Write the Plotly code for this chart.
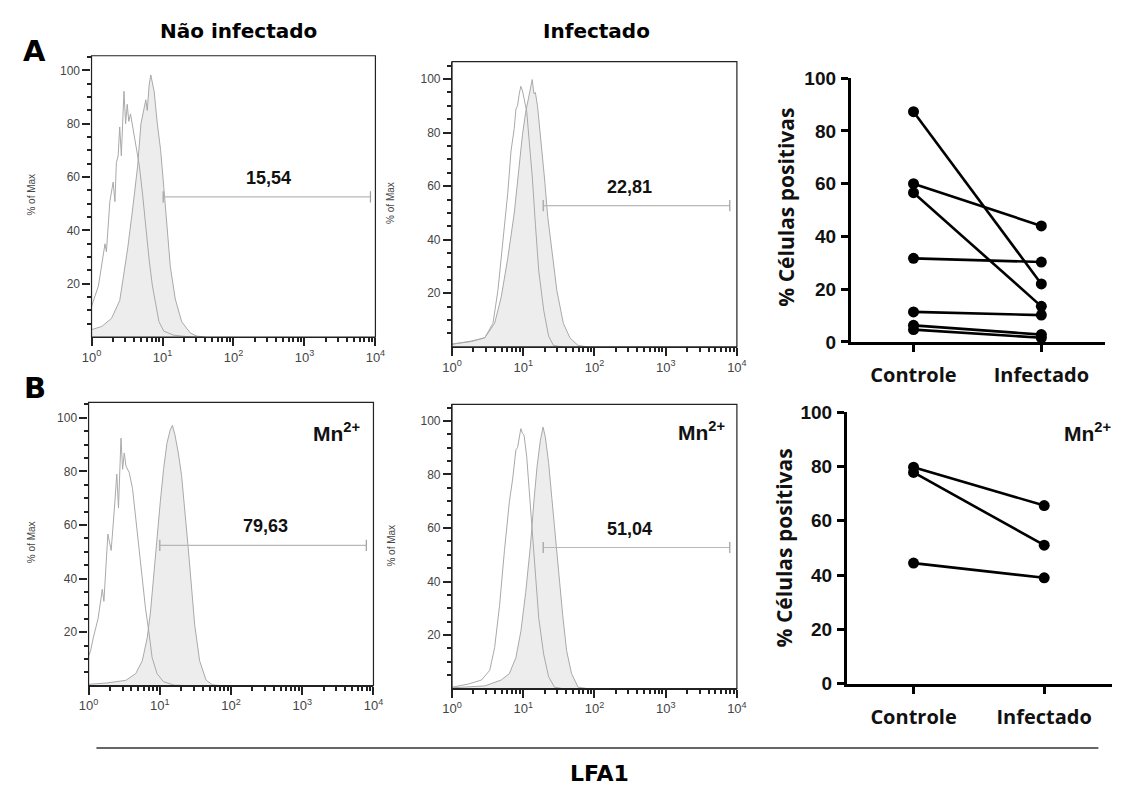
import numpy as np
import plotly.graph_objects as go

W, H = 1130, 795

# ---------------- data: flow histograms (x as log10 of LFA1 intensity, y as % of max) ----------
A1_OPEN_LOGX = [0.0, 0.005, 0.097, 0.166, 0.19, 0.21, 0.258, 0.304, 0.33, 0.35, 0.375, 0.397, 0.42, 0.457, 0.48, 0.503, 0.525, 0.549, 0.581, 0.627, 0.674, 0.72, 0.766, 0.812, 0.858, 0.904, 0.95, 1.02, 1.16, 1.3, 1.5]
A1_OPEN_Y = [11.0, 11.9, 19.2, 31.4, 35.0, 32.0, 50.8, 58.1, 50.8, 65.4, 68.0, 78.8, 68.0, 92.2, 80.0, 87.3, 80.9, 83.7, 78.8, 72.7, 64.2, 53.3, 39.9, 28.9, 19.2, 11.9, 5.8, 2.2, 0.7, 0.3, 0.0]
A1_FILL_LOGX = [0.0, 0.143, 0.281, 0.397, 0.443, 0.512, 0.581, 0.65, 0.696, 0.743, 0.765, 0.785, 0.812, 0.835, 0.882, 0.927, 0.973, 1.02, 1.066, 1.11, 1.18, 1.27, 1.39, 1.48, 1.6]
A1_FILL_Y = [2.8, 4.0, 7.0, 13.7, 21.6, 33.8, 48.4, 64.2, 80.0, 86.1, 89.0, 85.0, 94.6, 98.3, 92.2, 80.0, 70.3, 55.7, 41.1, 26.5, 14.3, 5.8, 1.6, 0.4, 0.0]

A2_OPEN_LOGX = [0.0, 0.276, 0.46, 0.575, 0.644, 0.713, 0.782, 0.828, 0.874, 0.897, 0.92, 0.943, 0.966, 0.99, 1.01, 1.05, 1.08, 1.127, 1.172, 1.218, 1.287, 1.356, 1.425, 1.55]
A2_OPEN_Y = [1.0, 2.2, 3.4, 8.8, 21.0, 39.2, 57.3, 73.1, 81.6, 88.8, 90.0, 94.3, 97.3, 95.5, 93.0, 87.6, 77.9, 63.4, 45.2, 28.3, 13.7, 4.0, 0.5, 0.0]
A2_FILL_LOGX = [0.0, 0.276, 0.46, 0.598, 0.69, 0.782, 0.874, 0.943, 0.989, 1.034, 1.08, 1.103, 1.126, 1.15, 1.17, 1.2, 1.25, 1.297, 1.343, 1.402, 1.472, 1.563, 1.655, 1.77, 1.9]
A2_FILL_Y = [1.0, 2.0, 3.4, 8.8, 18.5, 33.0, 50.0, 67.0, 79.2, 87.6, 93.7, 97.3, 99.8, 94.5, 95.0, 90.0, 76.7, 63.4, 48.8, 35.5, 21.0, 8.8, 3.4, 0.5, 0.0]

B1_OPEN_LOGX = [0.0, 0.028, 0.065, 0.133, 0.193, 0.215, 0.271, 0.317, 0.363, 0.396, 0.42, 0.455, 0.478, 0.501, 0.525, 0.57, 0.617, 0.662, 0.708, 0.754, 0.8, 0.846, 0.892, 0.961, 1.05, 1.2, 1.4]
B1_OPEN_Y = [11.0, 13.0, 17.8, 25.0, 36.0, 31.5, 56.6, 50.5, 66.3, 79.0, 66.3, 92.4, 80.8, 86.9, 82.0, 79.6, 73.6, 62.7, 51.7, 39.6, 28.7, 20.2, 10.5, 4.5, 1.5, 0.2, 0.0]
B1_FILL_LOGX = [0.0, 0.25, 0.524, 0.662, 0.754, 0.823, 0.869, 0.915, 0.961, 1.007, 1.053, 1.1, 1.145, 1.177, 1.21, 1.26, 1.306, 1.352, 1.398, 1.444, 1.49, 1.559, 1.651, 1.743, 1.85]
B1_FILL_Y = [0.5, 1.0, 2.0, 4.5, 9.3, 17.8, 27.5, 42.0, 56.6, 68.7, 80.8, 90.5, 95.4, 97.2, 94.0, 86.9, 78.4, 66.3, 51.7, 37.2, 22.7, 9.3, 2.0, 0.3, 0.0]

B2_OPEN_LOGX = [0.0, 0.23, 0.414, 0.529, 0.598, 0.667, 0.736, 0.805, 0.851, 0.897, 0.92, 0.943, 0.966, 0.99, 1.011, 1.048, 1.08, 1.127, 1.172, 1.218, 1.287, 1.356, 1.44, 1.55]
B2_OPEN_Y = [0.5, 1.7, 3.2, 6.8, 15.3, 31.0, 51.6, 69.8, 78.3, 89.2, 90.0, 94.0, 97.1, 95.3, 94.7, 86.8, 74.7, 57.7, 40.7, 26.2, 12.8, 4.4, 0.5, 0.0]
B2_FILL_LOGX = [0.0, 0.46, 0.69, 0.805, 0.897, 0.966, 1.034, 1.103, 1.149, 1.195, 1.241, 1.278, 1.31, 1.356, 1.402, 1.448, 1.494, 1.554, 1.609, 1.678, 1.77, 1.9]
B2_FILL_Y = [0.3, 1.0, 3.2, 5.6, 11.6, 21.3, 35.9, 54.0, 69.8, 83.2, 92.8, 97.7, 94.0, 84.4, 71.0, 57.7, 43.2, 27.4, 14.1, 5.6, 0.5, 0.0]

# gates (log10 start, log10 end, height) and gate percentages
GATES = {"A1": (1.01, 3.93, 52.6), "A2": (1.28, 3.9, 52.7), "B1": (1.0, 3.9, 52.4), "B2": (1.28, 3.9, 52.7)}
GATE_LABELS = {"A1": "15,54", "A2": "22,81", "B1": "79,63", "B2": "51,04"}

# ---------------- data: paired dot plots ----------------
CATEGORIES = ["Controle", "Infectado"]
A_CONTROLE = [87.3, 60.0, 56.6, 31.7, 11.4, 6.3, 4.7]
A_INFECTADO = [22.0, 44.0, 13.5, 30.3, 10.2, 2.8, 1.6]
B_CONTROLE = [79.7, 77.8, 44.4]
B_INFECTADO = [65.6, 51.0, 39.0]

FLOW_TICKVALS = [1, 10, 100, 1000, 10000]
FLOW_EXPONENTS = ["0", "1", "2", "3", "4"]
FLOW_TICKTEXT = ["10<sup>%s</sup>" % e for e in FLOW_EXPONENTS]
FLOW_MINOR = [m * 10 ** k for k in range(4) for m in range(2, 10)]
FLOW_Y_MAJOR = [20, 40, 60, 80, 100]
FLOW_Y_MINOR = [5, 10, 15, 25, 30, 35, 45, 50, 55, 65, 70, 75, 85, 90, 95, 105]
PCT_TICKS = [0, 20, 40, 60, 80, 100]


def px(x):
    return x / W


def py(y):
    return 1 - y / H


fig = go.Figure()

LINE_C = "#a9a9a9"
FILL_C = "#ededed"
TICK_C = "#222"

panels = [
    ("A1", "x", "y", "x7", "y7", A1_OPEN_LOGX, A1_OPEN_Y, A1_FILL_LOGX, A1_FILL_Y, (83, 372), (336, 47), 105.5),
    ("A2", "x2", "y2", "x8", "y8", A2_OPEN_LOGX, A2_OPEN_Y, A2_FILL_LOGX, A2_FILL_Y, (450, 740), (346, 53), 106.5),
    ("B1", "x4", "y4", "x9", "y9", B1_OPEN_LOGX, B1_OPEN_Y, B1_FILL_LOGX, B1_FILL_Y, (80, 370), (694, 403), 105.8),
    ("B2", "x5", "y5", "x10", "y10", B2_OPEN_LOGX, B2_OPEN_Y, B2_FILL_LOGX, B2_FILL_Y, (450, 740), (697, 405), 106.2),
]

axes = {}


def axname(a):
    return ("xaxis" if a[0] == "x" else "yaxis") + a[1:]


for key, xa, ya, mxa, mya, ox, oy, fx, fy, xd, yd, top in panels:
    fig.add_trace(go.Scatter(x=10 ** np.array(fx), y=fy, mode="lines", fill="tozeroy",
                             fillcolor=FILL_C, line=dict(color=LINE_C, width=1),
                             xaxis=xa, yaxis=ya, showlegend=False, hoverinfo="skip"))
    fig.add_trace(go.Scatter(x=10 ** np.array(ox), y=oy, mode="lines",
                             line=dict(color=LINE_C, width=1),
                             xaxis=xa, yaxis=ya, showlegend=False, hoverinfo="skip"))
    g0, g1, gh = GATES[key]
    fig.add_trace(go.Scatter(x=[10 ** g0, 10 ** g1], y=[gh, gh], mode="lines+markers",
                             line=dict(color="#b8b8b8", width=1.2),
                             marker=dict(symbol="line-ns", size=8, line=dict(color="#a0a0a0", width=1.2)),
                             xaxis=xa, yaxis=ya, showlegend=False, hoverinfo="skip"))
    fig.add_annotation(x=2.49, y=59.6, xref=xa, yref=ya, text="<b>" + GATE_LABELS[key] + "</b>",
                       showarrow=False, font=dict(family="Liberation Sans", size=18, color="#111"))
    # invisible carrier trace for the minor-tick overlay axes
    fig.add_trace(go.Scatter(x=[10, 100], y=[50, 50], mode="markers", marker=dict(opacity=0),
                             xaxis=mxa, yaxis=mya, showlegend=False, hoverinfo="skip"))

    xdom = [px(xd[0]), px(xd[1])]
    ydom = [py(yd[0]), py(yd[1])]
    axes[axname(xa)] = dict(type="log", range=[0, 4], domain=xdom, anchor=ya,
                            showline=True, linecolor="#222", linewidth=1.2,
                            showgrid=False, zeroline=False,
                            ticks="outside", ticklen=8, tickcolor=TICK_C, tickwidth=2,
                            tickvals=FLOW_TICKVALS, ticktext=FLOW_TICKTEXT,
                            tickfont=dict(family="Liberation Sans", size=13, color="#444"))
    axes[axname(ya)] = dict(range=[0, top], domain=ydom, anchor=xa,
                            showline=True, linecolor="#222", linewidth=1.2,
                            showgrid=False, zeroline=False,
                            ticks="outside", ticklen=8, tickcolor=TICK_C, tickwidth=2,
                            tickvals=FLOW_Y_MAJOR,
                            tickfont=dict(family="Liberation Sans", size=12, color="#444"))
    axes[axname(mxa)] = dict(type="log", range=[0, 4], domain=xdom, anchor=mya, overlaying=xa,
                             showline=False, showgrid=False, zeroline=False,
                             ticks="outside", ticklen=4, tickcolor=TICK_C, tickwidth=2,
                             tickvals=FLOW_MINOR, showticklabels=False)
    axes[axname(mya)] = dict(range=[0, top], domain=ydom, anchor=mxa, overlaying=ya,
                             showline=False, showgrid=False, zeroline=False,
                             ticks="outside", ticklen=4, tickcolor=TICK_C, tickwidth=2,
                             tickvals=FLOW_Y_MINOR, showticklabels=False)
    # box frame around each histogram panel
    fig.add_shape(type="rect", xref=xa + " domain", yref=ya + " domain", x0=0, x1=1, y0=0, y1=1,
                  line=dict(color="#222", width=1.2), fillcolor="rgba(0,0,0,0)", layer="above")

# paired dot plots
for xa, ya, ctrl, inf in [("x3", "y3", A_CONTROLE, A_INFECTADO), ("x6", "y6", B_CONTROLE, B_INFECTADO)]:
    for c, i in zip(ctrl, inf):
        fig.add_trace(go.Scatter(x=CATEGORIES, y=[c, i], mode="lines+markers",
                                 line=dict(color="black", width=2.6),
                                 marker=dict(color="black", size=11),
                                 cliponaxis=False, xaxis=xa, yaxis=ya, showlegend=False))


def dot_x(domain, anchor, rng):
    return dict(type="category", range=rng, domain=domain, anchor=anchor,
                showline=True, linecolor="black", linewidth=3,
                ticks="outside", ticklen=7, tickwidth=3, tickcolor="black",
                showgrid=False, zeroline=False, ticklabelstandoff=6,
                tickfont=dict(family="Open Sans", size=20, color="#111", weight="bold"))


def dot_y(domain, anchor):
    return dict(range=[0, 100], domain=domain, anchor=anchor,
                showline=True, linecolor="black", linewidth=3,
                ticks="outside", ticklen=7, tickwidth=3, tickcolor="black",
                tickvals=PCT_TICKS, showgrid=False, zeroline=False, ticklabelstandoff=1,
                tickfont=dict(family="Liberation Sans", size=19, color="#111", weight="bold"))


axes["xaxis3"] = dot_x([px(856), px(1115)], "y3", [-0.49, 1.5])
axes["yaxis3"] = dot_y([py(341), py(70)], "x3")
axes["xaxis6"] = dot_x([px(852), px(1122)], "y6", [-0.51, 1.52])
axes["yaxis6"] = dot_y([py(692), py(413)], "x6")

fig.update_layout(
    width=W, height=H, margin=dict(l=0, r=0, t=0, b=0),
    paper_bgcolor="white", plot_bgcolor="rgba(0,0,0,0)", showlegend=False,
    **axes,
)

def ann(x, y, text, size, family="DejaVu Sans", color="#000", angle=0, weight="normal"):
    fig.add_annotation(x=px(x), y=py(y), xref="paper", yref="paper", text=text, showarrow=False,
                       textangle=angle, xanchor="center", yanchor="middle",
                       font=dict(family=family, size=size, color=color, weight=weight))

ann(233, 22, "Não infectado", 20, weight="bold")
ann(597, 22, "Infectado", 20, weight="bold")
ann(25, 42, "A", 29, weight="bold")
ann(25, 388, "B", 29, weight="bold")
ann(600, 784, "LFA1", 22, weight="bold")

for (x, y) in [(22, 190), (388, 198), (22, 547), (388, 550)]:
    ann(x, y, "% of Max", 10, family="Liberation Sans", color="#444", angle=-90)

ann(790, 203, "% Células positivas", 21, family="Open Sans", color="#111", angle=-90, weight="bold")
ann(788, 553, "% Células positivas", 21, family="Open Sans", color="#111", angle=-90, weight="bold")

for (x, y) in [(332, 433), (704, 432), (1097, 433)]:
    ann(x, y, "Mn<sup>2+</sup>", 21, family="Liberation Sans", color="#111", weight="bold")

# bottom separator line
fig.add_shape(type="line", xref="paper", yref="paper", x0=px(88), x1=px(1108), y0=py(758), y1=py(758),
              line=dict(color="#333", width=1.5))

fig.write_html("out.html")
